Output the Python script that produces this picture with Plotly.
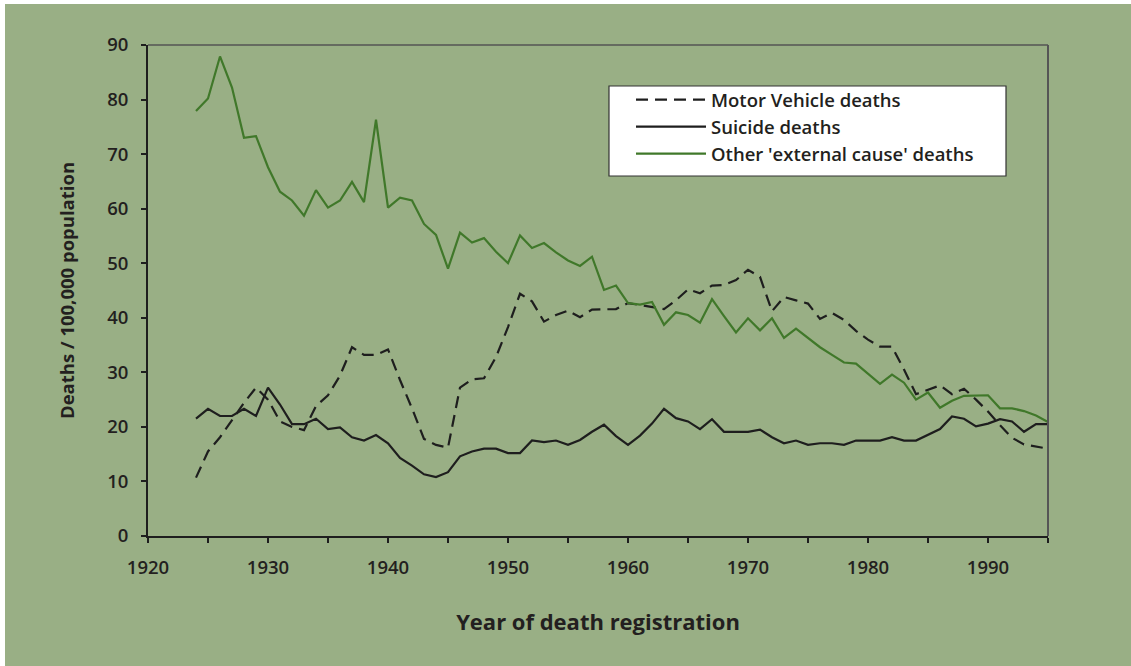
import plotly.graph_objects as go

years = list(range(1924, 1996))

motor_vehicle = [10.7, 15.5, 18.1, 21.3, 24.4, 27.2, 25.0, 21.0, 20.0, 19.4,
                 23.8, 25.8, 29.4, 34.6, 33.2, 33.2, 34.2, 28.6, 23.4, 17.8,
                 16.7, 16.2, 27.2, 28.7, 28.9, 32.8, 38.3, 44.4, 43.0, 39.3,
                 40.5, 41.3, 40.1, 41.5, 41.6, 41.6, 42.7, 42.3, 42.0, 41.6,
                 43.2, 45.2, 44.5, 45.9, 46.0, 46.9, 48.8, 47.5, 41.2, 43.8,
                 43.2, 42.6, 39.8, 40.9, 39.6, 37.6, 36.0, 34.7, 34.7, 30.5,
                 26.0, 26.8, 27.6, 26.0, 27.0, 25.0, 22.8, 20.3, 18.0, 16.8,
                 16.4, 16.0]

suicide = [21.5, 23.3, 22.0, 22.0, 23.3, 22.0, 27.2, 24.1, 20.5, 20.5,
           21.5, 19.6, 19.9, 18.1, 17.5, 18.5, 17.0, 14.3, 12.9, 11.3,
           10.8, 11.7, 14.6, 15.5, 16.0, 16.0, 15.2, 15.2, 17.5, 17.2,
           17.5, 16.7, 17.6, 19.1, 20.4, 18.3, 16.7, 18.4, 20.6, 23.3,
           21.6, 21.0, 19.6, 21.4, 19.1, 19.1, 19.1, 19.5, 18.1, 17.0,
           17.5, 16.7, 17.0, 17.0, 16.7, 17.5, 17.5, 17.5, 18.1, 17.5,
           17.5, 18.5, 19.6, 21.9, 21.5, 20.1, 20.6, 21.4, 21.0, 19.1,
           20.5, 20.5]

other_external = [77.9, 80.2, 87.9, 82.2, 73.0, 73.3, 67.6, 63.1, 61.5, 58.7,
                  63.4, 60.2, 61.5, 64.9, 61.2, 76.3, 60.2, 62.0, 61.5, 57.2,
                  55.2, 49.0, 55.6, 53.8, 54.6, 52.1, 50.0, 55.1, 52.8, 53.7,
                  52.0, 50.5, 49.5, 51.2, 45.1, 45.9, 42.7, 42.4, 42.9, 38.7,
                  41.0, 40.5, 39.1, 43.4, 40.3, 37.3, 39.9, 37.7, 39.9, 36.3,
                  38.0, 36.3, 34.6, 33.2, 31.8, 31.6, 29.8, 27.9, 29.6, 28.1,
                  25.0, 26.3, 23.5, 24.8, 25.7, 25.8, 25.8, 23.4, 23.4, 22.9,
                  22.1, 20.9]

series_names = ["Motor Vehicle deaths", "Suicide deaths", "Other 'external cause' deaths"]
x_tick_labels = ["1920", "1930", "1940", "1950", "1960", "1970", "1980", "1990"]
x_tick_vals = [1920, 1930, 1940, 1950, 1960, 1970, 1980, 1990]
y_tick_vals = [0, 10, 20, 30, 40, 50, 60, 70, 80, 90]

TEXT = "#231F20"
BG_GREEN = "#99AF85"
LINE_GREEN = "#40782A"
FONT = "Open Sans"

fig = go.Figure()
fig.add_trace(go.Scatter(x=years, y=motor_vehicle, mode="lines", name=series_names[0],
                         line=dict(color="#1E1E1E", width=2.2, dash="12px,7px")))
fig.add_trace(go.Scatter(x=years, y=suicide, mode="lines", name=series_names[1],
                         line=dict(color="#1E1E1E", width=2.2)))
fig.add_trace(go.Scatter(x=years, y=other_external, mode="lines", name=series_names[2],
                         line=dict(color=LINE_GREEN, width=2.2)))

W, H = 1131, 666
L, R, T, B = 148, 83, 45, 130
pw, ph = W - L - R, H - T - B

def px(xp):
    return (xp - L) / pw

def py(yp):
    return (H - B - yp) / ph

# green page background (thin white strip at left and top)
fig.add_shape(type="rect", xref="paper", yref="paper", layer="below",
              x0=px(5), x1=px(W + 10), y0=py(H + 10), y1=py(4),
              fillcolor=BG_GREEN, line=dict(width=0))

# legend frame
fig.add_shape(type="rect", xref="paper", yref="paper", layer="above",
              x0=px(609), x1=px(1006), y0=py(176), y1=py(86),
              fillcolor="white", line=dict(color="#333333", width=1.2))

fig.update_layout(
    width=W, height=H,
    margin=dict(l=L, r=R, t=T, b=B, pad=0, autoexpand=False),
    paper_bgcolor="white",
    plot_bgcolor="white",
    font=dict(family=FONT, color=TEXT, size=16),
    showlegend=True,
    legend=dict(
        x=px(631), y=py(81), xanchor="left", yanchor="top",
        bgcolor="rgba(0,0,0,0)", borderwidth=0,
        font=dict(family=FONT, size=18.5, color=TEXT, weight=600),
        itemwidth=70, tracegroupgap=0,
    ),
    xaxis=dict(
        range=[1920, 1995], tickmode="array", tickvals=x_tick_vals, ticktext=x_tick_labels,
        showgrid=False, zeroline=False, automargin=False,
        showline=True, linecolor="#1E1E1E", linewidth=2,
        ticks="outside", ticklen=5, tickcolor="#1E1E1E", tickwidth=1.5,
        minor=dict(dtick=5, tick0=1920, ticks="outside", ticklen=5, tickcolor="#1E1E1E", tickwidth=1.5),
        tickfont=dict(family=FONT, size=18.5, color=TEXT, weight=600),
        ticklabelstandoff=9,
        title=dict(text="Year of death registration",
                   font=dict(family=FONT, size=22, color=TEXT, weight=700), standoff=36),
    ),
    yaxis=dict(
        range=[0, 90], tickmode="array", tickvals=y_tick_vals,
        showgrid=False, zeroline=False, automargin=False,
        showline=True, linecolor="#1E1E1E", linewidth=2,
        ticks="outside", ticklen=5, tickcolor="#1E1E1E", tickwidth=1.5,
        tickfont=dict(family=FONT, size=18.5, color=TEXT, weight=600),
        ticklabelstandoff=9,
        title=dict(text="Deaths / 100,000 population",
                   font=dict(family=FONT, size=18.5, color=TEXT, weight=700), standoff=28),
    ),
)

fig.add_shape(type="line", xref="paper", yref="paper", x0=0, x1=1, y0=1, y1=1,
              line=dict(color="#555555", width=1.5))
fig.add_shape(type="line", xref="paper", yref="paper", x0=1, x1=1, y0=0, y1=1,
              line=dict(color="#555555", width=2))

fig.write_html("out.html", config={"displayModeBar": False},
               post_script="document.body.style.margin='0px';")
